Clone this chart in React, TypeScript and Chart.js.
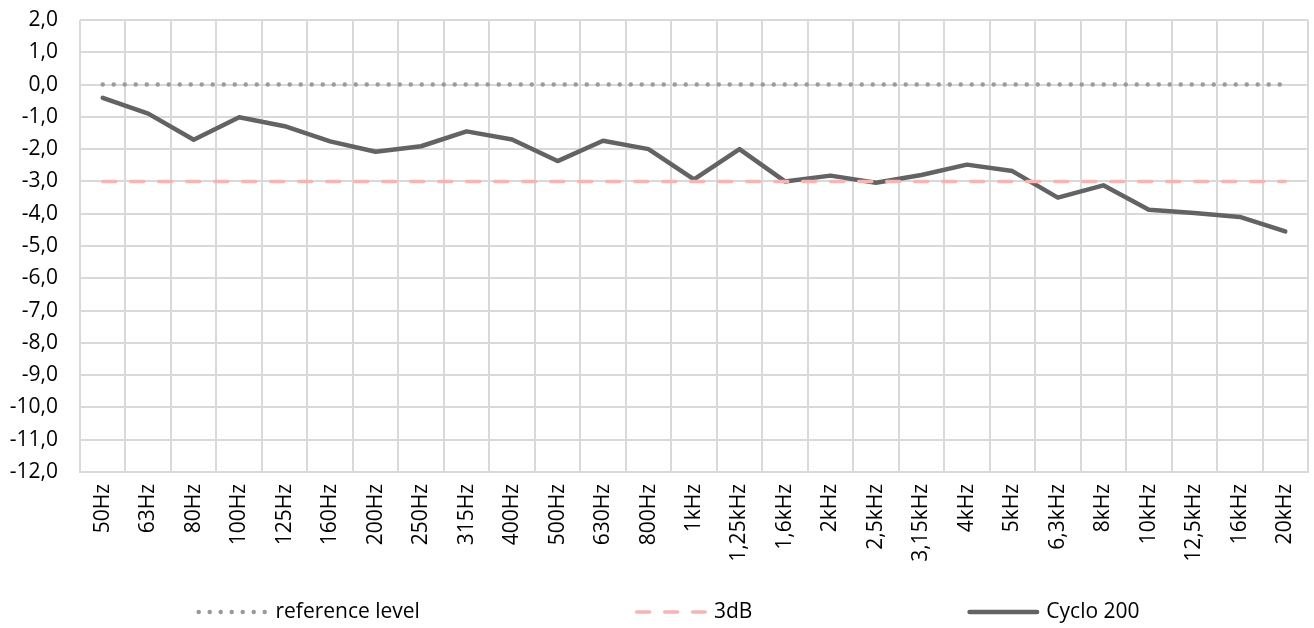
import React, { useEffect, useRef } from "react";
import { Chart, registerables } from "chart.js";

Chart.register(...registerables);

const categories = [
  "50Hz", "63Hz", "80Hz", "100Hz", "125Hz", "160Hz", "200Hz", "250Hz", "315Hz",
  "400Hz", "500Hz", "630Hz", "800Hz", "1kHz", "1,25kHz", "1,6kHz", "2kHz",
  "2,5kHz", "3,15kHz", "4kHz", "5kHz", "6,3kHz", "8kHz", "10kHz", "12,5kHz",
  "16kHz", "20kHz",
];

const referenceLevel = categories.map(() => 0);
const threeDb = categories.map(() => -3);
const cyclo200 = [
  -0.41, -0.9, -1.71, -1.01, -1.29, -1.76, -2.08, -1.91, -1.45,
  -1.7, -2.37, -1.74, -2.0, -2.94, -2.0, -3.0, -2.82,
  -3.04, -2.8, -2.48, -2.68, -3.5, -3.12, -3.88, -3.98,
  -4.1, -4.55,
];

const yMin = -12;
const yMax = 2;
const yStep = 1;

const FONT = "'Open Sans', 'Noto Sans', sans-serif";
const FONT_SIZE = 21;

const legendPlugin = {
  id: "customLegend",
  afterDraw(chart: any) {
    const ctx = chart.ctx;
    const lineLen = 72;
    const textGap = 7;
    const itemGap = 215;
    const centerX = 668;
    const y = 612;
    ctx.save();
    ctx.font = `${FONT_SIZE}px ${FONT}`;
    const items = chart.data.datasets.map((ds: any) => ({
      ds,
      w: lineLen + textGap + ctx.measureText(ds.label).width,
    }));
    const total = items.reduce((s: number, it: any) => s + it.w, 0) + itemGap * (items.length - 1);
    let x = centerX - total / 2;
    items.forEach((it: any) => {
      const ds = it.ds;
      ctx.beginPath();
      ctx.strokeStyle = ds.borderColor;
      ctx.lineWidth = ds.borderWidth;
      ctx.setLineDash(ds.borderDash || []);
      ctx.lineCap = ds.borderCapStyle || "butt";
      const inset = ds.borderCapStyle === "round" ? ds.borderWidth / 2 : 0;
      ctx.moveTo(x + inset, y);
      ctx.lineTo(x + lineLen - inset, y);
      ctx.stroke();
      ctx.setLineDash([]);
      ctx.fillStyle = "#000";
      ctx.textBaseline = "middle";
      ctx.textAlign = "left";
      ctx.fillText(ds.label, x + lineLen + textGap, y);
      x += it.w + itemGap;
    });
    ctx.restore();
  },
};

export default function App() {
  const ref = useRef<HTMLCanvasElement | null>(null);

  useEffect(() => {
    document.body.style.margin = "0";
    const canvas = ref.current;
    if (!canvas) return;
    const chart = new Chart(canvas, {
      type: "line",
      data: {
        labels: categories,
        datasets: [
          {
            label: "reference level",
            data: referenceLevel,
            borderColor: "#9A9A9A",
            backgroundColor: "#9A9A9A",
            borderWidth: 4.5,
            borderDash: [0, 11],
            borderCapStyle: "round",
            pointRadius: 0,
            fill: false,
          },
          {
            label: "3dB",
            data: threeDb,
            borderColor: "#F4B5B5",
            backgroundColor: "#F4B5B5",
            borderWidth: 3.5,
            borderDash: [13, 15],
            borderCapStyle: "round",
            pointRadius: 0,
            fill: false,
          },
          {
            label: "Cyclo 200",
            data: cyclo200,
            borderColor: "#636365",
            backgroundColor: "#636365",
            borderWidth: 4.5,
            borderJoinStyle: "round",
            borderCapStyle: "round",
            pointRadius: 0,
            fill: false,
          },
        ],
      },
      options: {
        animation: false,
        responsive: false,
        layout: { padding: { left: 0, right: 6, top: 0, bottom: 0 } },
        plugins: {
          tooltip: { enabled: false },
          legend: { display: false },
        },
        scales: {
          x: {
            offset: true,
            grid: {
              offset: true,
              color: "#D9D9D9",
              lineWidth: 2,
              drawTicks: false,
            },
            border: { color: "#D9D9D9", width: 2 },
            ticks: {
              color: "#000",
              font: { family: FONT, size: FONT_SIZE },
              minRotation: 90,
              maxRotation: 90,
              autoSkip: false,
              padding: 12,
            },
            afterFit: (s: any) => {
              s.height = 156;
              s.paddingLeft = 0;
              s.paddingRight = 0;
            },
          },
          y: {
            min: yMin,
            max: yMax,
            grid: { color: "#D9D9D9", lineWidth: 2, drawTicks: false },
            border: { display: false },
            ticks: {
              stepSize: yStep,
              color: "#000",
              font: { family: FONT, size: FONT_SIZE },
              padding: 22,
              callback: (v: any) => Number(v).toFixed(1).replace(".", ","),
            },
            afterFit: (s: any) => {
              s.width = 80;
              s.paddingTop = 20;
              s.paddingBottom = 12;
            },
          },
        },
      },
      plugins: [legendPlugin],
    });
    return () => chart.destroy();
  }, []);

  return (
    <div style={{ width: 1314, height: 628 }}>
      <canvas ref={ref} width={1314} height={628} style={{ width: 1314, height: 628 }} />
    </div>
  );
}
